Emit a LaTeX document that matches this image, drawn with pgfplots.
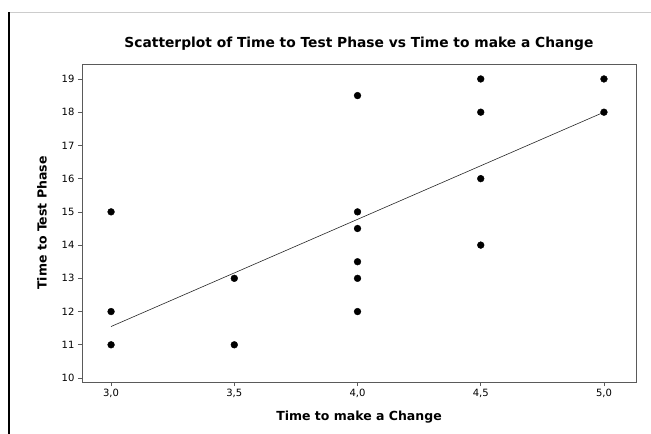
\documentclass[border=0pt]{standalone}
\usepackage{pgfplots}
\pgfplotsset{compat=1.18}
\usepackage{fontspec}
\setmainfont{DejaVu Sans}
\definecolor{framegray}{RGB}{90,90,90}

\begin{document}
\begin{tikzpicture}[x=1pt,y=1pt]
  % window frame of the original screenshot
  \useasboundingbox (0,0) rectangle (651,-434);
  \draw[gray!40, line width=1pt] (9,-12) -- (651,-12);
  \draw[black, line width=1.2pt] (9,-12) -- (9,-434);
  \begin{axis}[
      at={(82pt,-382pt)}, anchor=south west,
      width=554pt, height=318pt, scale only axis,
      xmin=2.882, xmax=5.13, ymin=9.88, ymax=19.45,
      xtick={3,3.5,4,4.5,5},
      ytick={10,11,...,19},
      /pgf/number format/.cd, fixed, fixed zerofill, precision=1, use comma,
      /pgfplots/.cd,
      yticklabel style={/pgf/number format/precision=0, /pgf/number format/fixed zerofill=false},
      /pgf/number format/assume math mode=true,
      tick label style={font=\fontsize{10}{11}\selectfont},
      axis line style={framegray, line width=0.9pt},
      tick style={framegray, line width=0.7pt},
      tick align=outside, major tick length=4pt,
      xtick pos=bottom, ytick pos=left,
      title={\bfseries Scatterplot of Time to Test Phase vs Time to make a Change},
      title style={font=\fontsize{13.8}{16}\selectfont, yshift=4pt},
      xlabel={\bfseries Time to make a Change},
      ylabel={\bfseries Time to Test Phase},
      label style={font=\fontsize{12.5}{14}\selectfont},
      xlabel style={yshift=-6pt},
      ylabel style={yshift=8pt},
    ]
    \addplot[only marks, mark=*, mark size=3.4pt, black] coordinates {
      (3,15)(3,12)(3,11)
      (3.5,13)(3.5,11)
      (4,18.5)(4,15)(4,14.5)(4,13.5)(4,13)(4,12)
      (4.5,19)(4.5,18)(4.5,16)(4.5,14)
      (5,19)(5,18)
    };
    \addplot[black!85, line width=0.6pt] coordinates {(3,11.55)(5,18.0)};
  \end{axis}
\end{tikzpicture}
\end{document}
